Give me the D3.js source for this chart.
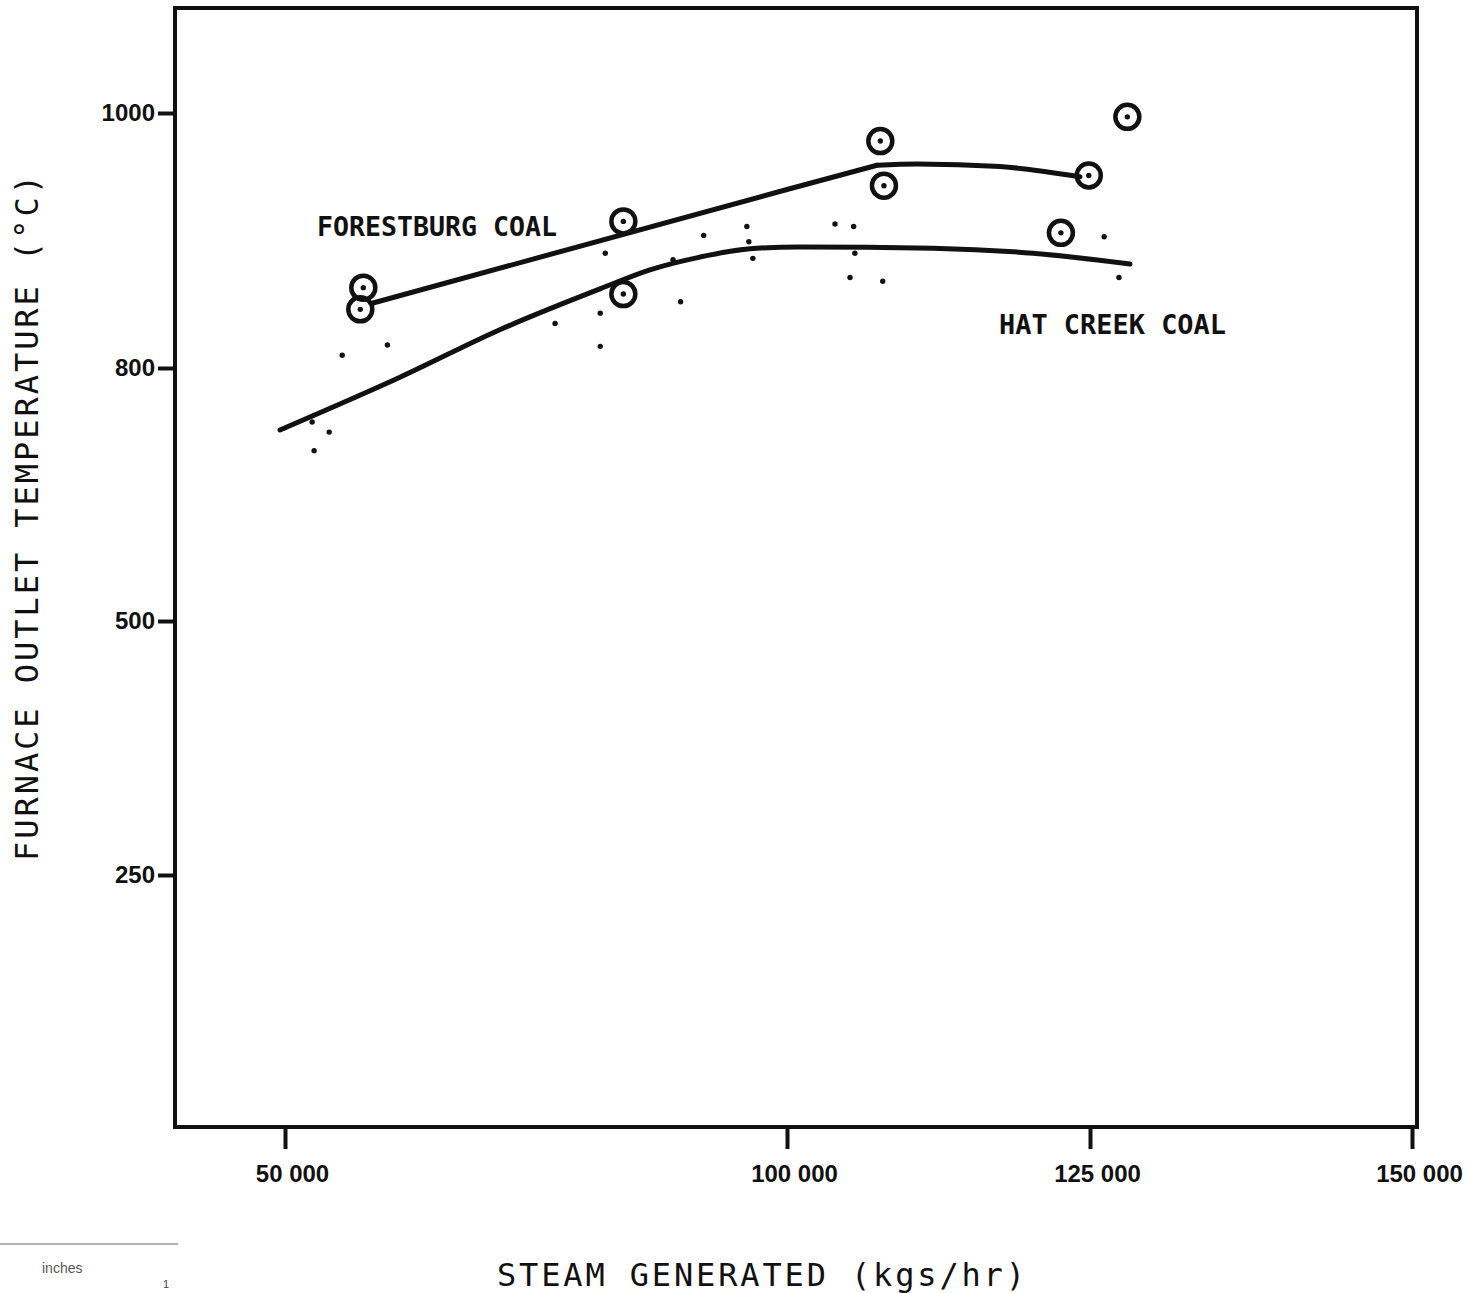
<!DOCTYPE html>
<html>
<head>
<meta charset="utf-8">
<script src="https://cdn.jsdelivr.net/npm/d3@7"></script>
<style>
  html, body { margin: 0; padding: 0; background: #fff; }
  svg { display: block; }
</style>
</head>
<body>
<svg id="chart" width="1483" height="1293"></svg>
<script>
// ---- data ----
const xTickValues = [50000, 100000, 125000, 150000];
const xTickLabels = ["50 000", "100 000", "125 000", "150 000"];
const yTickValues = [250, 500, 800, 1000];
const yTickLabels = ["250", "500", "800", "1000"];

// circled points (Forestburg coal)
const forestburgX = [57800, 57500, 83700, 83700, 107700, 108000, 124900, 127900, 122600];
const forestburgY = [863, 846, 915, 858, 978, 943, 951, 997, 906];

// plain dots (Hat Creek coal)
const hatCreekX = [52700, 54400, 52900, 55700, 60200, 76900, 81400, 81400, 81900, 88650, 89400, 91700, 96000, 96200, 96600, 103960, 105500, 105600, 105200, 107900, 126100, 127250];
const hatCreekY = [736, 724, 702, 810, 818, 835, 843, 817, 890, 885, 852, 904, 911, 899, 886, 913, 911, 890, 871, 868, 903, 871];

// fitted curves: Forestburg is a straight rise then a smooth plateau
const forestburgRiseX = [58765, 100000, 107425];
const forestburgRiseY = [851, 940, 959];
const forestburgPlateauX = [107425, 110725, 117570, 124170];
const forestburgPlateauY = [959, 960, 958, 950];
const hatCreekCurveX = [49500, 61450, 71400, 81370, 86350, 91330, 96310, 101070, 112045, 120300, 128100];
const hatCreekCurveY = [726.5, 789, 830, 862, 877, 887, 893.5, 895, 894, 890, 881.5];

const seriesNames = ["FORESTBURG COAL", "HAT CREEK COAL"];
const xTitle = "STEAM GENERATED (kgs/hr)";
const yTitle = "FURNACE OUTLET TEMPERATURE (°C)";

// ---- layout ----
const svg = d3.select("#chart");
const frame = { left: 175, top: 8, right: 1417, bottom: 1127 };

// hand-drawn, unevenly spaced axes -> piecewise linear scales
const x = d3.scaleLinear()
  .domain([50000, 100000, 125000, 150000])
  .range([285, 787, 1090, 1412]);
const y = d3.scaleLinear()
  .domain([0, 250, 500, 800, 1000])
  .range([1129, 875, 621, 368, 113]);

const ink = "#111";

// frame
svg.append("rect")
  .attr("x", frame.left).attr("y", frame.top)
  .attr("width", frame.right - frame.left)
  .attr("height", frame.bottom - frame.top)
  .attr("fill", "none").attr("stroke", ink).attr("stroke-width", 4);

// y axis
const yAxis = svg.append("g")
  .attr("transform", `translate(${frame.left},0)`)
  .call(d3.axisLeft(y).tickValues(yTickValues)
    .tickFormat((d, i) => yTickLabels[i]).tickSize(17).tickPadding(3));
yAxis.select(".domain").remove();
yAxis.selectAll(".tick line").attr("stroke", ink).attr("stroke-width", 4);
yAxis.selectAll(".tick text")
  .attr("fill", ink)
  .style("font-family", "'Liberation Sans', Arial, sans-serif")
  .style("font-weight", "bold").style("font-size", "24px");

// x axis
const xAxis = svg.append("g")
  .attr("transform", `translate(0,${frame.bottom})`)
  .call(d3.axisBottom(x).tickValues(xTickValues)
    .tickFormat((d, i) => xTickLabels[i]).tickSize(22).tickPadding(16));
xAxis.select(".domain").remove();
xAxis.selectAll(".tick line").attr("stroke", ink).attr("stroke-width", 4);
xAxis.selectAll(".tick text")
  .attr("fill", ink)
  .attr("dx", 7)
  .style("font-family", "'Liberation Sans', Arial, sans-serif")
  .style("font-weight", "bold").style("font-size", "24px");

// curves
const pts = (xs, ys) => xs.map((v, i) => [v, ys[i]]);
const linear = d3.line().x(d => x(d[0])).y(d => y(d[1]));
const smooth = d3.line().x(d => x(d[0])).y(d => y(d[1])).curve(d3.curveMonotoneX);
[
  linear(pts(forestburgRiseX, forestburgRiseY)),
  smooth(pts(forestburgPlateauX, forestburgPlateauY)),
  smooth(pts(hatCreekCurveX, hatCreekCurveY))
].forEach(dStr => {
  svg.append("path").attr("d", dStr)
    .attr("fill", "none").attr("stroke", ink)
    .attr("stroke-width", 5).attr("stroke-linecap", "round").attr("stroke-linejoin", "round");
});

// Hat Creek dots
svg.append("g").selectAll("circle")
  .data(pts(hatCreekX, hatCreekY))
  .join("circle")
  .attr("cx", d => x(d[0])).attr("cy", d => y(d[1]))
  .attr("r", 2.7).attr("fill", ink);

// Forestburg circled points
const fb = svg.append("g").selectAll("g")
  .data(pts(forestburgX, forestburgY))
  .join("g")
  .attr("transform", d => `translate(${x(d[0])},${y(d[1])})`);
fb.append("circle").attr("r", 12).attr("fill", "none")
  .attr("stroke", ink).attr("stroke-width", 4.5);
fb.append("circle").attr("r", 2.7).attr("fill", ink);

// series labels
const labelFont = "'DejaVu Sans Mono', monospace";
svg.append("text").attr("x", 317).attr("y", 236)
  .attr("textLength", 240).attr("lengthAdjust", "spacingAndGlyphs")
  .style("font-family", labelFont).style("font-weight", "bold")
  .style("font-size", "27px").attr("fill", ink).text(seriesNames[0]);
svg.append("text").attr("x", 999).attr("y", 334)
  .attr("textLength", 227).attr("lengthAdjust", "spacingAndGlyphs")
  .style("font-family", labelFont).style("font-weight", "bold")
  .style("font-size", "27px").attr("fill", ink).text(seriesNames[1]);

// axis titles
svg.append("text")
  .attr("x", 497).attr("y", 1286)
  .attr("textLength", 528).attr("lengthAdjust", "spacing")
  .style("font-family", labelFont).style("font-size", "32px")
  .attr("fill", ink).text(xTitle);
svg.append("text")
  .attr("transform", "translate(38,861) rotate(-90)")
  .attr("x", 0).attr("y", 0)
  .attr("textLength", 686).attr("lengthAdjust", "spacing")
  .style("font-family", labelFont).style("font-size", "32px")
  .attr("fill", ink).text(yTitle);

// scan ruler remnant at lower left
svg.append("line").attr("x1", 0).attr("x2", 178).attr("y1", 1244).attr("y2", 1244)
  .attr("stroke", "#999").attr("stroke-width", 1.5);
svg.append("text").attr("x", 42).attr("y", 1273)
  .style("font-family", "'Liberation Sans', Arial, sans-serif").style("font-size", "14px")
  .attr("fill", "#555").text("inches");
svg.append("text").attr("x", 163).attr("y", 1288)
  .style("font-family", "'Liberation Sans', Arial, sans-serif").style("font-size", "11px")
  .attr("fill", "#444").text("1");
</script>
</body>
</html>
